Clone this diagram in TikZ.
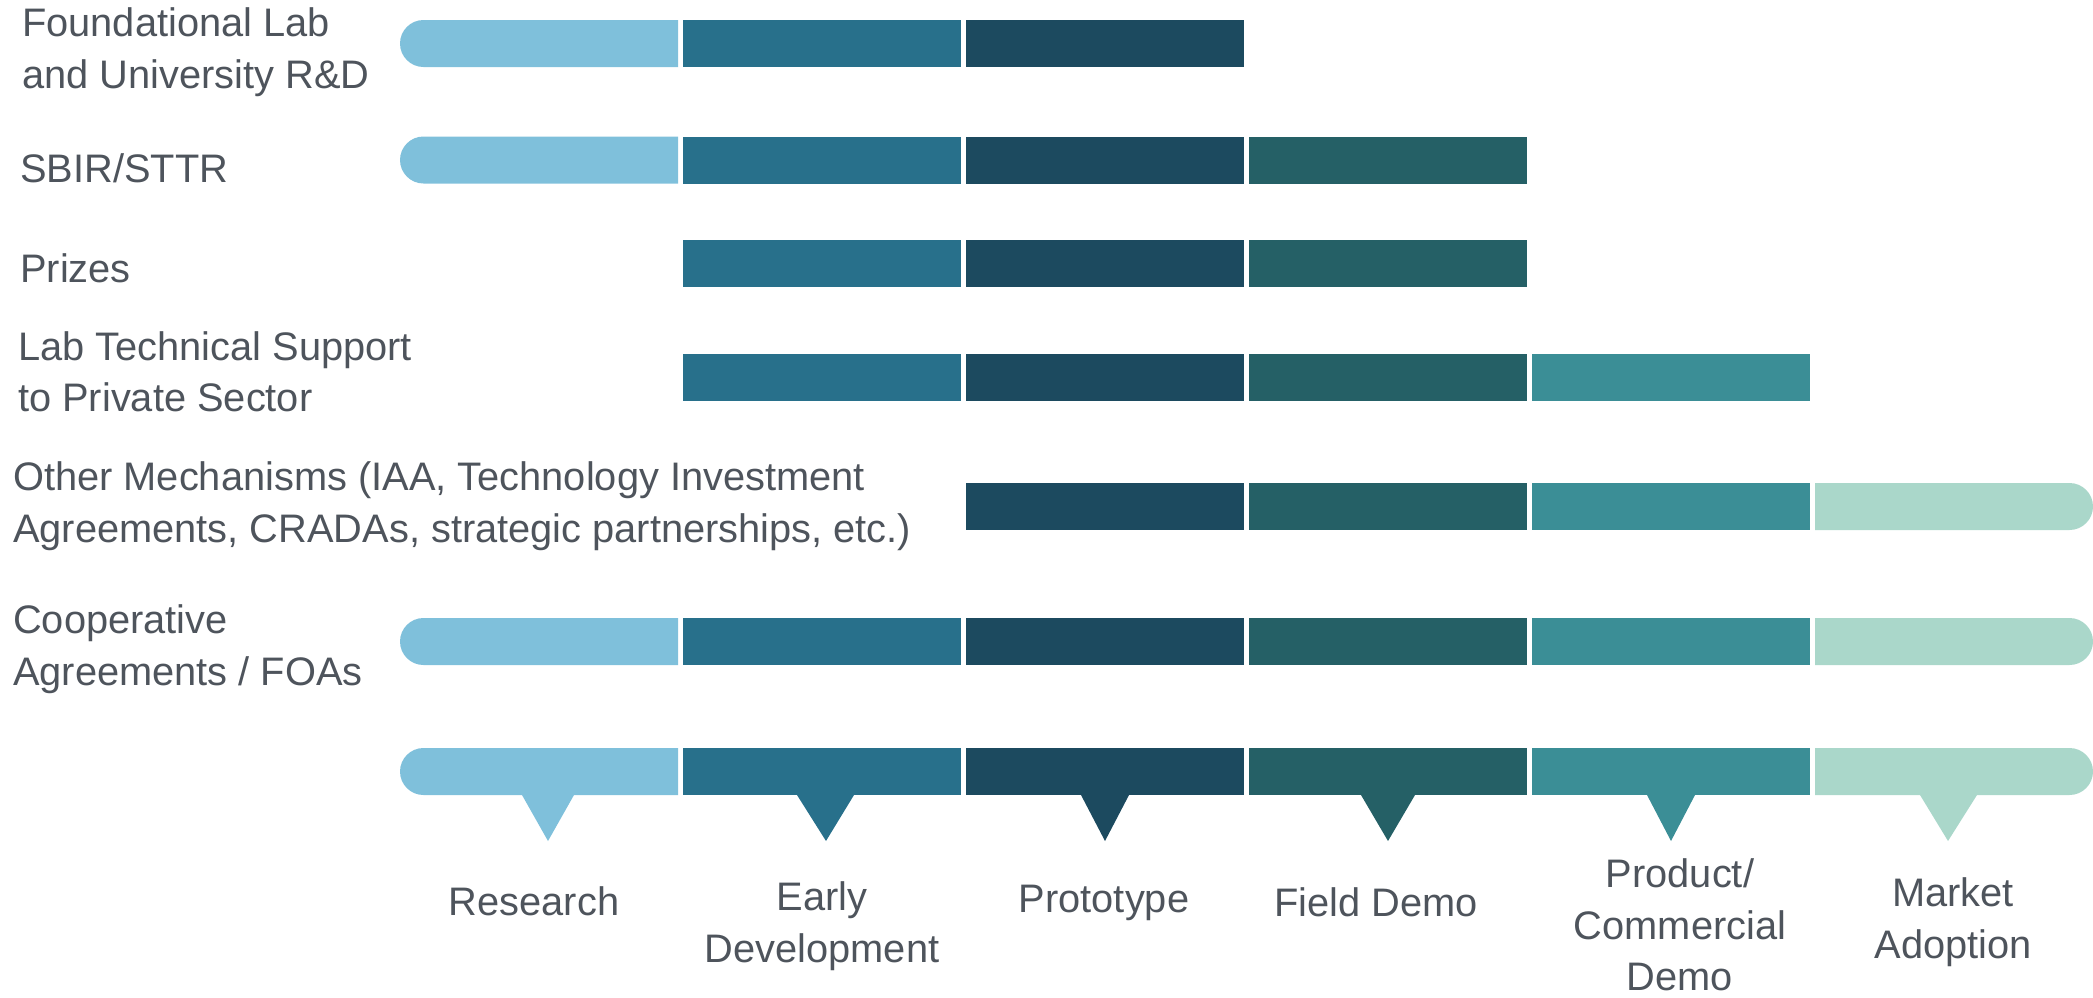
\documentclass[tikz,border=0pt]{standalone}
\usepackage{fontspec}
\setmainfont{Liberation Sans}
\usetikzlibrary{positioning,shapes.misc}
\definecolor{c_res}{HTML}{7FC0DB}
\definecolor{c_early}{HTML}{28708B}
\definecolor{c_proto}{HTML}{1C4A5F}
\definecolor{c_field}{HTML}{256066}
\definecolor{c_prod}{HTML}{3B8E96}
\definecolor{c_mkt}{HTML}{AAD7CA}
\definecolor{c_txt}{HTML}{4E545C}
\tikzset{
	stage/.style = {rectangle, inner sep=0pt, outer sep=0pt,
		minimum width=278pt, minimum height=47pt},
	stg_res/.style = {stage, fill=c_res, rounded rectangle,
		rounded rectangle east arc=none},% research, round left end
	stg_early/.style = {stage, fill=c_early},% early development
	stg_proto/.style = {stage, fill=c_proto},% prototype
	stg_field/.style = {stage, fill=c_field},% field demo
	stg_prod/.style = {stage, fill=c_prod},% product / commercial demo
	stg_mkt/.style = {stage, fill=c_mkt, rounded rectangle,
		rounded rectangle west arc=none},% market adoption, round right end
	lbl/.style = {text=c_txt, font=\fontsize{39.8}{51.5}\selectfont, inner sep=0pt},
	row_lbl/.style = {lbl, anchor=west, align=left},
	stg_lbl/.style = {lbl, align=center}
}

\begin{document}
\begin{tikzpicture}[x=1pt,y=-1pt]
\useasboundingbox (0,0) rectangle (2093,997);
% foundational lab
\node [stg_res] (f1) at (539,43.5) {};
\node [stg_early, right=5pt of f1] (f2) {};
\node [stg_proto, right=5pt of f2] (f3) {};
% sbir
\node [stg_res] (s1) at (539,160) {};
\node [stg_early, right=5pt of s1] (s2) {};
\node [stg_proto, right=5pt of s2] (s3) {};
\node [stg_field, right=5pt of s3] (s4) {};
% prizes
\node [stg_early] (p2) at (822,263.5) {};
\node [stg_proto, right=5pt of p2] (p3) {};
\node [stg_field, right=5pt of p3] (p4) {};
% lab technical support
\node [stg_early] (t2) at (822,377) {};
\node [stg_proto, right=5pt of t2] (t3) {};
\node [stg_field, right=5pt of t3] (t4) {};
\node [stg_prod, right=5pt of t4] (t5) {};
% other mechanisms
\node [stg_proto] (o3) at (1105,506.5) {};
\node [stg_field, right=5pt of o3] (o4) {};
\node [stg_prod, right=5pt of o4] (o5) {};
\node [stg_mkt, right=5pt of o5] (o6) {};
% cooperative agreements
\node [stg_res] (c1) at (539,641.5) {};
\node [stg_early, right=5pt of c1] (c2) {};
\node [stg_proto, right=5pt of c2] (c3) {};
\node [stg_field, right=5pt of c3] (c4) {};
\node [stg_prod, right=5pt of c4] (c5) {};
\node [stg_mkt, right=5pt of c5] (c6) {};
% stage scale
\node [stg_res] (b1) at (539,771.5) {};
\node [stg_early, right=5pt of b1] (b2) {};
\node [stg_proto, right=5pt of b2] (b3) {};
\node [stg_field, right=5pt of b3] (b4) {};
\node [stg_prod, right=5pt of b4] (b5) {};
\node [stg_mkt, right=5pt of b5] (b6) {};
\fill [c_res] ([xshift=-17pt]b1.south) -- ([xshift=35pt]b1.south) -- ([xshift=9pt,yshift=-46pt]b1.south) -- cycle;
\fill [c_early] ([xshift=-25pt]b2.south) -- ([xshift=32pt]b2.south) -- ([xshift=4pt,yshift=-46pt]b2.south) -- cycle;
\fill [c_proto] ([xshift=-24pt]b3.south) -- ([xshift=24pt]b3.south) -- ([yshift=-46pt]b3.south) -- cycle;
\fill [c_field] ([xshift=-27pt]b4.south) -- ([xshift=27pt]b4.south) -- ([yshift=-46pt]b4.south) -- cycle;
\fill [c_prod] ([xshift=-24pt]b5.south) -- ([xshift=24pt]b5.south) -- ([yshift=-46pt]b5.south) -- cycle;
\fill [c_mkt] ([xshift=-34pt]b6.south) -- ([xshift=23pt]b6.south) -- ([xshift=-6pt,yshift=-46pt]b6.south) -- cycle;
% row labels
\node [row_lbl] (lf) at (22,52) {Foundational Lab\\and University R\&D};
\node [row_lbl] (ls) at (20,168) {SBIR/STTR};
\node [row_lbl] (lp) at (20,268) {Prizes};
\node [row_lbl] (lt) at (18,372) {Lab Technical Support\\to Private Sector};
\node [row_lbl] (lo) at (13,506) {Other Mechanisms (IAA, Technology Investment\\Agreements, CRADAs, strategic partnerships, etc.)};
\node [row_lbl] (lc) at (13,649) {Cooperative\\Agreements / FOAs};
% stage labels
\node [stg_lbl] (n1) at (534,901) {Research};
\node [stg_lbl] (n2) at (822,926) {Early\\Development};
\node [stg_lbl] (n3) at (1104,903) {Prototype};
\node [stg_lbl] (n4) at (1376,902) {Field Demo};
\node [stg_lbl] (n5) at (1680,925) {Product/\\Commercial\\Demo};
\node [stg_lbl] (n6) at (1953,922) {Market\\Adoption};
\end{tikzpicture}
\end{document}
